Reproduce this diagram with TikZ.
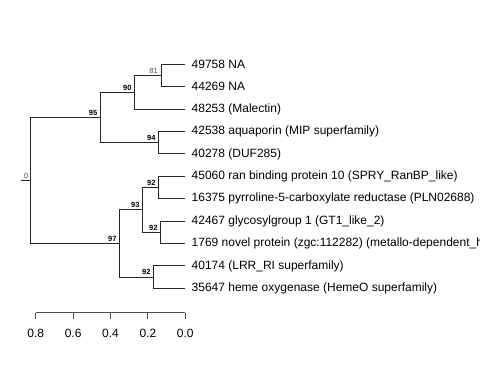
\documentclass[tikz,border=0pt]{standalone}
\usepackage{fontspec}
\setmainfont{Liberation Sans}
\tikzset{
  edge/.style={draw=black!85, line width=1bp},
  leaflab/.style={anchor=west, inner sep=0pt, xshift=6.5bp, font=\fontsize{12bp}{14bp}\selectfont},
  boot/.style={anchor=south east, inner sep=0pt, font=\fontsize{7.5bp}{9bp}\selectfont\bfseries},
  bootlight/.style={anchor=south east, inner sep=0pt, text=black!70, font=\fontsize{7.5bp}{9bp}\selectfont},
  ticklab/.style={anchor=center, inner sep=0pt, font=\fontsize{12bp}{14bp}\selectfont},
  axisline/.style={draw=black!70, line width=1bp}
}
\begin{document}
\begin{tikzpicture}[x=1bp,y=-1bp]
\useasboundingbox (0,0) rectangle (480,384);
\clip (0,0) rectangle (480,384);
% leaf tips
\coordinate (t1) at (185,64.3);
\coordinate (t2) at (185,86.7);
\coordinate (t3) at (185,109.1);
\coordinate (t4) at (185,131.5);
\coordinate (t5) at (185,153.9);
\coordinate (t6) at (185,176.3);
\coordinate (t7) at (185,198.7);
\coordinate (t8) at (185,221.1);
\coordinate (t9) at (185,243.5);
\coordinate (t10) at (185,265.9);
\coordinate (t11) at (185,288.3);
% internal nodes
\coordinate (n81) at (161,75.5);
\coordinate (n90) at (134,92.3);
\coordinate (n94) at (158,142.7);
\coordinate (n95) at (100,117.5);
\coordinate (n92a) at (158,187.5);
\coordinate (n92b) at (160,232.3);
\coordinate (n93) at (142,209.9);
\coordinate (n92c) at (153,277.1);
\coordinate (n97) at (119,243.5);
\coordinate (root) at (30.7,180.5);
\coordinate (rstub) at (20.7,180.5);
% edges
\draw[edge] (rstub) -- (root);
\draw[edge] (root) |- (n95);
\draw[edge] (root) |- (n97);
\draw[edge] (n95) |- (n90);
\draw[edge] (n95) |- (n94);
\draw[edge] (n90) |- (n81);
\draw[edge] (n90) |- (t3);
\draw[edge] (n81) |- (t1);
\draw[edge] (n81) |- (t2);
\draw[edge] (n94) |- (t4);
\draw[edge] (n94) |- (t5);
\draw[edge] (n97) |- (n93);
\draw[edge] (n97) |- (n92c);
\draw[edge] (n93) |- (n92a);
\draw[edge] (n93) |- (n92b);
\draw[edge] (n92a) |- (t6);
\draw[edge] (n92a) |- (t7);
\draw[edge] (n92b) |- (t8);
\draw[edge] (n92b) |- (t9);
\draw[edge] (n92c) |- (t10);
\draw[edge] (n92c) |- (t11);
% leaf labels
\node[leaflab] (L1) at (t1) {49758 NA};
\node[leaflab] (L2) at (t2) {44269 NA};
\node[leaflab] (L3) at (t3) {48253 (Malectin)};
\node[leaflab] (L4) at (t4) {42538 aquaporin (MIP superfamily)};
\node[leaflab] (L5) at (t5) {40278 (DUF285)};
\node[leaflab] (L6) at (t6) {45060 ran binding protein 10 (SPRY\_RanBP\_like)};
\node[leaflab] (L7) at (t7) {16375 pyrroline-5-carboxylate reductase (PLN02688)};
\node[leaflab] (L8) at (t8) {42467 glycosylgroup 1 (GT1\_like\_2)};
\node[leaflab] (L9) at (t9) {1769 novel protein (zgc:112282) (metallo-dependent\_h};
\node[leaflab] (L10) at (t10) {40174 (LRR\_RI superfamily)};
\node[leaflab] (L11) at (t11) {35647 heme oxygenase (HemeO superfamily)};
% bootstrap labels
\node[bootlight] (b0) at ([shift={(-2.2,-2)}]root) {0};
\node[bootlight] (b81) at ([shift={(-3,-2)}]n81) {81};
\node[boot] (b90) at ([shift={(-2.3,-2)}]n90) {90};
\node[boot] (b95) at ([shift={(-2.5,-2)}]n95) {95};
\node[boot] (b94) at ([shift={(-2.3,-2)}]n94) {94};
\node[boot] (b92a) at ([shift={(-2.3,-2)}]n92a) {92};
\node[boot] (b92b) at ([shift={(-2.3,-2)}]n92b) {92};
\node[boot] (b93) at ([shift={(-2.3,-2)}]n93) {93};
\node[boot] (b92c) at ([shift={(-2.3,-2)}]n92c) {92};
\node[boot] (b97) at ([shift={(-2.3,-2)}]n97) {97};
% scale axis
\coordinate (a8) at (35.7,312.5);
\coordinate (a6) at (73.1,312.5);
\coordinate (a4) at (110.5,312.5);
\coordinate (a2) at (147.9,312.5);
\coordinate (a0) at (185.3,312.5);
\draw[axisline] (a8) -- (a0);
\foreach \t in {a8,a6,a4,a2,a0} {
  \draw[axisline] (\t) -- ++(0,6.5);
}
\node[ticklab] (v8) at ([shift={(0,20.5)}]a8) {0.8};
\node[ticklab] (v6) at ([shift={(0,20.5)}]a6) {0.6};
\node[ticklab] (v4) at ([shift={(0,20.5)}]a4) {0.4};
\node[ticklab] (v2) at ([shift={(0,20.5)}]a2) {0.2};
\node[ticklab] (v0) at ([shift={(0,20.5)}]a0) {0.0};
\end{tikzpicture}
\end{document}
